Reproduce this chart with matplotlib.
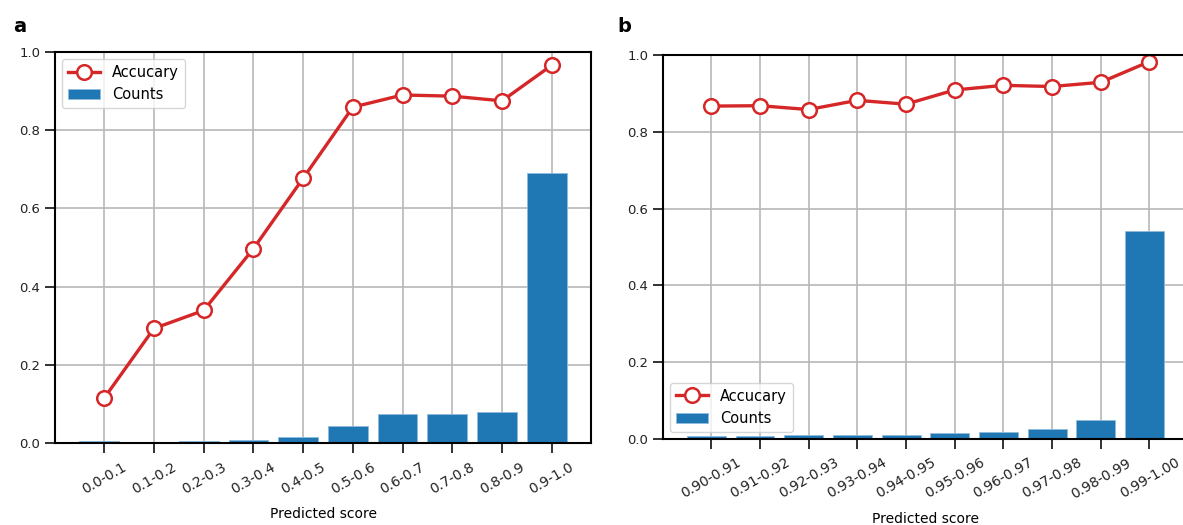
import matplotlib
matplotlib.use("Agg")
import matplotlib.pyplot as plt
import numpy as np

# panel a: coarse bins
labels_a = ['0.0-0.1', '0.1-0.2', '0.2-0.3', '0.3-0.4', '0.4-0.5',
            '0.5-0.6', '0.6-0.7', '0.7-0.8', '0.8-0.9', '0.9-1.0']
acc_a = [0.115, 0.293, 0.339, 0.497, 0.677, 0.859, 0.890, 0.887, 0.875, 0.966]
counts_a = [0.005, 0.003, 0.004, 0.007, 0.015, 0.044, 0.075, 0.074, 0.080, 0.690]

# panel b: fine bins above 0.9
labels_b = ['0.90-0.91', '0.91-0.92', '0.92-0.93', '0.93-0.94', '0.94-0.95',
            '0.95-0.96', '0.96-0.97', '0.97-0.98', '0.98-0.99', '0.99-1.00']
acc_b = [0.867, 0.868, 0.858, 0.882, 0.872, 0.909, 0.921, 0.918, 0.929, 0.983]
counts_b = [0.008, 0.008, 0.010, 0.010, 0.011, 0.015, 0.017, 0.027, 0.050, 0.543]

plt.rcParams['font.family'] = 'DejaVu Sans'
plt.rcParams['font.size'] = 10

fig = plt.figure(figsize=(11.83, 5.25), dpi=100)
ax_a = fig.add_axes([0.0465, 0.1562, 0.4531, 0.7448])
ax_b = fig.add_axes([0.5604, 0.1638, 0.4438, 0.7314])


def draw(ax, labels, acc, counts, legend_loc):
    x = np.arange(len(labels))
    ax.set_axisbelow(True)
    ax.grid(True, color='#b8b8b8', linewidth=1.2)
    ax.bar(x - 0.1, counts, width=0.8, color='#1f77b4', edgecolor='#8fbbdc',
           linewidth=0.6, label='Counts')
    ax.plot(x, acc, color='#d62728', linewidth=2.4, marker='o', markersize=10.5,
            markerfacecolor='white', markeredgecolor='#d62728', markeredgewidth=1.8,
            label='Accucary')
    ax.set_ylim(0, 1.0)
    ax.set_xticks(x)
    ax.set_xticklabels(labels, rotation=30, ha='center')
    ax.set_xlabel('Predicted score', fontsize=10, labelpad=8)
    ax.tick_params(length=7, width=1.3, colors='#222222')
    ax.tick_params(axis='x', labelsize=10, pad=5)
    ax.tick_params(axis='y', labelsize=9.5)
    for s in ax.spines.values():
        s.set_linewidth(1.5)
    ax.legend(loc=legend_loc, fontsize=10.5, handlelength=2.2)


draw(ax_a, labels_a, acc_a, counts_a, 'upper left')
draw(ax_b, labels_b, acc_b, counts_b, 'lower left')

fig.text(0.011, 0.94, 'a', fontsize=14, fontweight='bold')
fig.text(0.522, 0.94, 'b', fontsize=14, fontweight='bold')

fig.savefig('out.png', dpi=100)
